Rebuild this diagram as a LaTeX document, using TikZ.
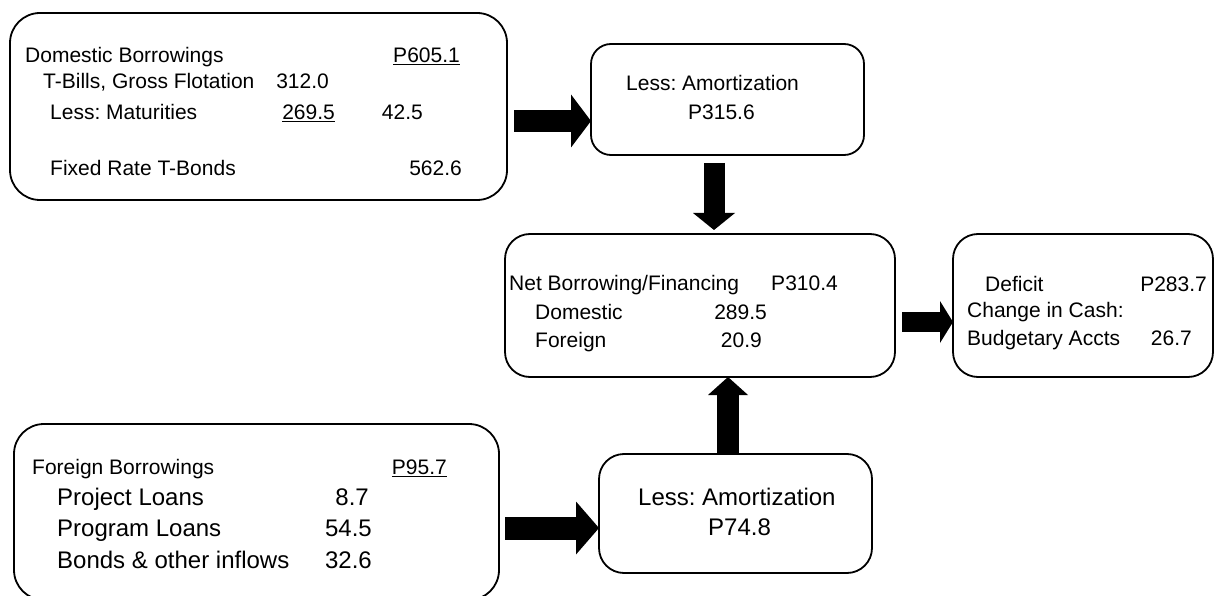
\documentclass[tikz,border=0pt]{standalone}
\usepackage{fontspec}
\setmainfont{Liberation Sans}
\usetikzlibrary{arrows.meta}
\newcommand{\fsa}{\fontsize{21}{25}\selectfont}
\newcommand{\fsb}{\fontsize{24}{29}\selectfont}
\frenchspacing
\tikzset{
  box/.style={draw, line width=1.8pt, inner sep=0pt, outer sep=0pt},
  lbl/.style={inner sep=0pt, anchor=base west, font=\fsa},
  num/.style={inner sep=0pt, anchor=base east, font=\fsa},
  blk/.style n args={3}{line width=#1, -{Triangle[length=#2 0 0, width=#3 0 0, line width=0pt]}}
}
\begin{document}
\begin{tikzpicture}[x=1pt, y=-1pt]
\clip (0,0) rectangle (1216,596);
\node[box, rounded corners=30pt, minimum width=497pt, minimum height=187pt] (db) at (258.5,106.5){};
\node[box, rounded corners=20pt, minimum width=273pt, minimum height=111pt] (la1) at (727.5,99.5){};
\node[box, rounded corners=25pt, minimum width=390pt, minimum height=143pt] (nb) at (700,305.5){};
\node[box, rounded corners=25pt, minimum width=260pt, minimum height=143pt] (def) at (1083,305.5){};
\node[box, rounded corners=30pt, minimum width=485pt, minimum height=176pt] (fb) at (256.5,512){};
\node[box, rounded corners=25pt, minimum width=273pt, minimum height=119pt] (la2) at (735.5,513.5){};

\node[lbl] (dbh) at (25,62.5){Domestic Borrowings};
\node[num] (dbv) at (460,62.5){\underline{P605.1}};
\node[lbl] (tb) at (43,88.5){T-Bills, Gross Flotation};
\node[num] (tbv) at (329,88.5){312.0};
\node[lbl] (mat) at (50,119.5){Less: Maturities};
\node[num] (matv) at (335,119.5){\underline{269.5}};
\node[num] (net) at (423,119.5){42.5};
\node[lbl] (frb) at (50,175.5){Fixed Rate T-Bonds};
\node[num] (frbv) at (462,175.5){562.6};

\node[lbl] (am1) at (626,90.5){Less: Amortization};
\node[lbl] (am1v) at (688,119.5){P315.6};

\node[lbl] (nbh) at (509,290.5){Net Borrowing/Financing};
\node[num] (nbv) at (838,290.5){P310.4};
\node[lbl] (dom) at (535,319.5){Domestic};
\node[num] (domv) at (767,319.5){289.5};
\node[lbl] (for) at (535,347.5){Foreign};
\node[num] (forv) at (762,347.5){20.9};

\node[lbl] (dfh) at (985,291.5){Deficit};
\node[num] (dfv) at (1207,291.5){P283.7};
\node[lbl] (cic) at (967,317.5){Change in Cash:};
\node[lbl] (ba) at (967,345.5){Budgetary Accts};
\node[num] (bav) at (1192,345.5){26.7};

\node[lbl] (fbh) at (32,474.5){Foreign Borrowings};
\node[num] (fbv) at (447,474.5){\underline{P95.7}};
\node[lbl, font=\fsb] (pjl) at (57,505.6){Project Loans};
\node[num, font=\fsb] (pjlv) at (369,505.6){8.7};
\node[lbl, font=\fsb] (pgl) at (57,536.6){Program Loans};
\node[num, font=\fsb] (pglv) at (372,536.6){54.5};
\node[lbl, font=\fsb] (bnd) at (57,568.6){Bonds \& other inflows};
\node[num, font=\fsb] (bndv) at (372,568.6){32.6};

\node[lbl, font=\fsb] (am2) at (638,505.6){Less: Amortization};
\node[lbl, font=\fsb] (am2v) at (708,535.6){P74.8};

\draw[blk={22pt}{20pt}{53pt}, shorten <=7pt] (db.east |- 0,121) -- (la1.west |- 0,121);
\draw[blk={21pt}{17pt}{42pt}, shorten <=8pt, shorten >=4pt] (la1.south -| 714,0) -- (nb.north -| 714,0);
\draw[blk={22pt}{18pt}{40pt}] (la2.north -| 728,0) -- (nb.south -| 728,0);
\draw[blk={23pt}{23pt}{53pt}, shorten <=6pt] (fb.east |- 0,528) -- (la2.west |- 0,528);
\draw[blk={20pt}{13pt}{42pt}, shorten <=7pt] (nb.east |- 0,322) -- (def.west |- 0,322);
\end{tikzpicture}
\end{document}
